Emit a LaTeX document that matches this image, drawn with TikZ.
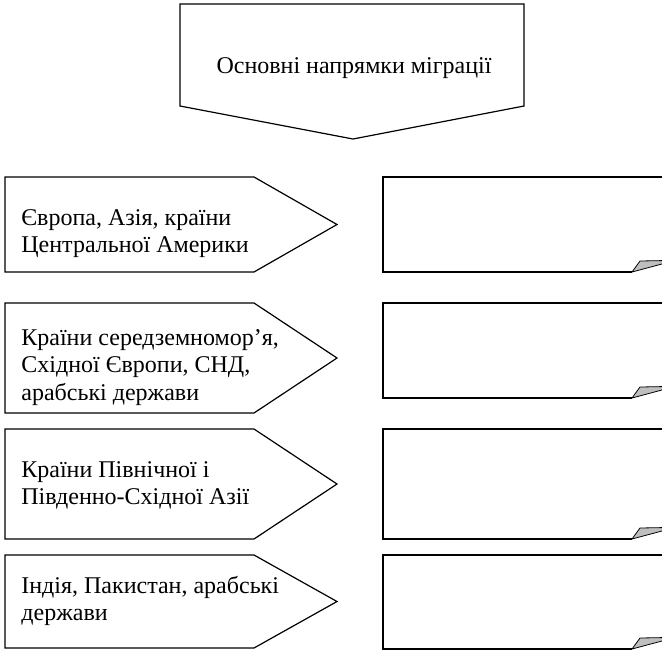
\documentclass[tikz,border=0pt]{standalone}
\usepackage{fontspec}
\setmainfont{Liberation Serif}
\begin{document}
\begin{tikzpicture}[x=0.5pt,y=-0.5pt,
    outline/.style={draw=black,line width=0.6pt},
    curlcorner/.style={fill=black!25,draw=black,line width=0.4pt},
    srctext/.style={anchor=north west,inner sep=0pt,align=left,font=\fontsize{12}{13.75}\selectfont}]
  \useasboundingbox (0,0) rectangle (662,649);
  \clip (0,0) rectangle (662,649);
  \draw[outline] (180,4) -- (524,4) -- (524,106) -- (353,139) -- (180,106) -- cycle;
  \node[font=\fontsize{12}{13.75}\selectfont,anchor=base] (head) at (354,73) {Основні напрямки міграції};
  \foreach \t/\b/\s/\txt [count=\i] in {
      177/272/225/{Європа, Азія, країни\\Центральної Америки},
      303/413/345/{Країни середземномор’я,\\Східної Європи, СНД,\\арабські держави},
      429/539/477/{Країни Північної і\\Південно-Східної Азії},
      555/648/593/{Індія, Пакистан, арабські\\держави}}{
    \draw[outline] (5,\t) -- (254,\t) -- (337,{(\t+\b)/2}) -- (254,\b) -- (5,\b) -- cycle;
    \node[srctext] (src\i) at (21,{\s-19.25}) {\strut\txt};
  }
  \foreach \t/\b [count=\i] in {177/272, 303/398, 429/539, 555/649}{
    \draw[outline] (632,\b) -- (383,\b) -- (383,\t) -- (672,\t);
    \draw[curlcorner] (632,\b) -- (640,{\b-11}) -- (672,{\b-11.6}) -- (672,{\b-10.7}) -- cycle;
  }
\end{tikzpicture}
\end{document}
